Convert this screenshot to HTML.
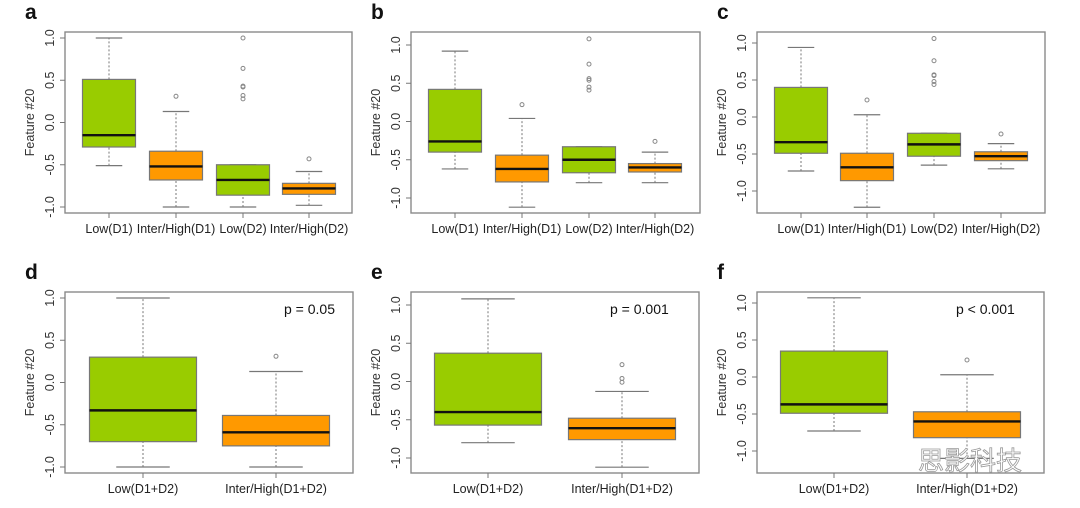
<!DOCTYPE html>
<html><head><meta charset="utf-8"><style>
body{margin:0;background:#fff;width:1080px;height:508px;overflow:hidden}
svg{display:block;font-family:"Liberation Sans","Noto Sans CJK SC",sans-serif}
</style></head><body>
<svg id="c" width="1080" height="508" viewBox="0 0 1080 508"></svg>
<script>
const catsTop = ["Low(D1)","Inter/High(D1)","Low(D2)","Inter/High(D2)"];
const catsBottom = ["Low(D1+D2)","Inter/High(D1+D2)"];
const tickValues = [1.0,0.5,0.0,-0.5,-1.0];
const tickLabels = ["1.0","0.5","0.0","-0.5","-1.0"];
const colorsTop = ["#99cc00","#ff9900","#99cc00","#ff9900"];
const colorsBottom = ["#99cc00","#ff9900"];
// stats: [lowWhisker, q1, median, q3, highWhisker]
const statsA = [[-0.51,-0.29,-0.15,0.51,1.0],[-1.0,-0.68,-0.52,-0.34,0.13],[-1.0,-0.86,-0.68,-0.5,-0.5],[-0.98,-0.85,-0.78,-0.72,-0.58]];
const outA = [[],[0.31],[1.0,0.64,0.43,0.42,0.32,0.28],[-0.43]];
const statsB = [[-0.62,-0.4,-0.26,0.42,0.92],[-1.12,-0.79,-0.62,-0.44,0.04],[-0.8,-0.67,-0.5,-0.33,-0.33],[-0.8,-0.66,-0.6,-0.55,-0.4]];
const outB = [[],[0.22],[1.08,0.75,0.56,0.54,0.45,0.41],[-0.26]];
const statsC = [[-0.73,-0.49,-0.34,0.4,0.94],[-1.22,-0.86,-0.68,-0.49,0.03],[-0.65,-0.53,-0.37,-0.22,-0.22],[-0.7,-0.59,-0.53,-0.47,-0.36]];
const outC = [[],[0.23],[1.06,0.76,0.57,0.56,0.48,0.44],[-0.23]];
const statsD = [[-1.0,-0.7,-0.33,0.3,1.0],[-1.0,-0.75,-0.59,-0.39,0.13]];
const outD = [[],[0.31]];
const statsE = [[-0.8,-0.57,-0.4,0.37,1.08],[-1.12,-0.76,-0.61,-0.48,-0.13]];
const outE = [[],[0.22,0.04,-0.01]];
const statsF = [[-0.73,-0.49,-0.37,0.35,1.07],[-1.1,-0.82,-0.6,-0.47,0.03]];
const outF = [[],[0.23]];
const pLabels = ["p = 0.05","p = 0.001","p < 0.001"];

const svg = document.getElementById('c');
const NS = "http://www.w3.org/2000/svg";
function mk(tag, attrs, parent){const e=document.createElementNS(NS,tag);for(const k in attrs)e.setAttribute(k,attrs[k]);(parent||svg).appendChild(e);return e;}

function panel(p){
  const g = mk('g',{});
  
  
  const y = v => p.y1 + (1 - v) / 2 * (p.ym1 - p.y1);
  const lt = mk('text',{x:p.left-40,y:p.top-13,'font-size':21,'font-weight':'bold',fill:'#111'},g);
  lt.textContent = p.letter;
  
  
  const fr = mk('rect',{x:p.left,y:p.top,width:p.right-p.left,height:p.bottom-p.top,fill:'none',stroke:'#8a8a8a','stroke-width':1.4},g);
  
  
  tickValues.forEach((v,i)=>{
    mk('line',{x1:p.left-5,x2:p.left,y1:y(v),y2:y(v),stroke:'#777'},g);
    const t = mk('text',{x:0,y:0,'font-size':12.5,fill:'#333','text-anchor':'middle',transform:`translate(${p.left-11},${y(v)}) rotate(-90)`},g);
    t.textContent = tickLabels[i];
    
    
  });
  const yt = mk('text',{x:0,y:0,'font-size':12.5,fill:'#333','text-anchor':'middle',transform:`translate(${p.left-31},${(p.top+p.bottom)/2}) rotate(-90)`},g);
  yt.textContent = "Feature #20";
  
  
  p.cats.forEach((c,i)=>{
    const cx = p.cx[i], s = p.stats[i], hw = p.bw/2;
    mk('line',{x1:cx,x2:cx,y1:p.bottom,y2:p.bottom+5,stroke:'#777'},g);
    const lab = mk('text',{x:cx,y:p.bottom+20,'font-size':12.5,fill:'#222','text-anchor':'middle'},g);
    lab.textContent = c;
    
    
    mk('line',{x1:cx,x2:cx,y1:y(s[0]),y2:y(s[1]),stroke:'#777','stroke-dasharray':'2,2'},g);
    mk('line',{x1:cx,x2:cx,y1:y(s[3]),y2:y(s[4]),stroke:'#777','stroke-dasharray':'2,2'},g);
    mk('line',{x1:cx-hw/2,x2:cx+hw/2,y1:y(s[0]),y2:y(s[0]),stroke:'#777','stroke-width':1.2},g);
    mk('line',{x1:cx-hw/2,x2:cx+hw/2,y1:y(s[4]),y2:y(s[4]),stroke:'#777','stroke-width':1.2},g);
    const b = mk('rect',{x:cx-hw,y:y(s[3]),width:p.bw,height:y(s[1])-y(s[3]),fill:p.colors[i],stroke:'#777','stroke-width':1.2},g);
    
    
    mk('line',{x1:cx-hw,x2:cx+hw,y1:y(s[2]),y2:y(s[2]),stroke:'#111','stroke-width':2.4},g);
    p.out[i].forEach(o=>{
      const ci = mk('circle',{cx:cx,cy:y(o),r:2,fill:'none',stroke:'#888','stroke-width':1},g);
      
      
    });
  });
  if(p.pval){
    const pt = mk('text',{x:p.px,y:p.top+22,'font-size':14,fill:'#111'},g);
    pt.textContent = p.pval;
    
    
  }
}
panel({letter:'a',left:65,right:352,top:32,bottom:213,y1:38,ym1:207,cx:[109,176,243,309],bw:53,cats:catsTop,colors:colorsTop,stats:statsA,out:outA});
panel({letter:'b',left:411,right:700,top:32,bottom:213,y1:45,ym1:198,cx:[455,522,589,655],bw:53,cats:catsTop,colors:colorsTop,stats:statsB,out:outB});
panel({letter:'c',left:757,right:1045,top:32,bottom:213,y1:43,ym1:191,cx:[801,867,934,1001],bw:53,cats:catsTop,colors:colorsTop,stats:statsC,out:outC});
panel({letter:'d',left:65,right:353,top:292,bottom:473,y1:298,ym1:467,cx:[143,276],bw:107,cats:catsBottom,colors:colorsBottom,stats:statsD,out:outD,pval:pLabels[0],px:284});
panel({letter:'e',left:411,right:699,top:292,bottom:473,y1:305,ym1:458,cx:[488,622],bw:107,cats:catsBottom,colors:colorsBottom,stats:statsE,out:outE,pval:pLabels[1],px:610});
panel({letter:'f',left:757,right:1044,top:292,bottom:473,y1:303,ym1:451,cx:[834,967],bw:107,cats:catsBottom,colors:colorsBottom,stats:statsF,out:outF,pval:pLabels[2],px:956});
const wm = mk('text',{x:918,y:470,'font-size':26,fill:'#fff',stroke:'#999','stroke-width':0.8});
wm.textContent = "思影科技";


</script>
</body></html>
